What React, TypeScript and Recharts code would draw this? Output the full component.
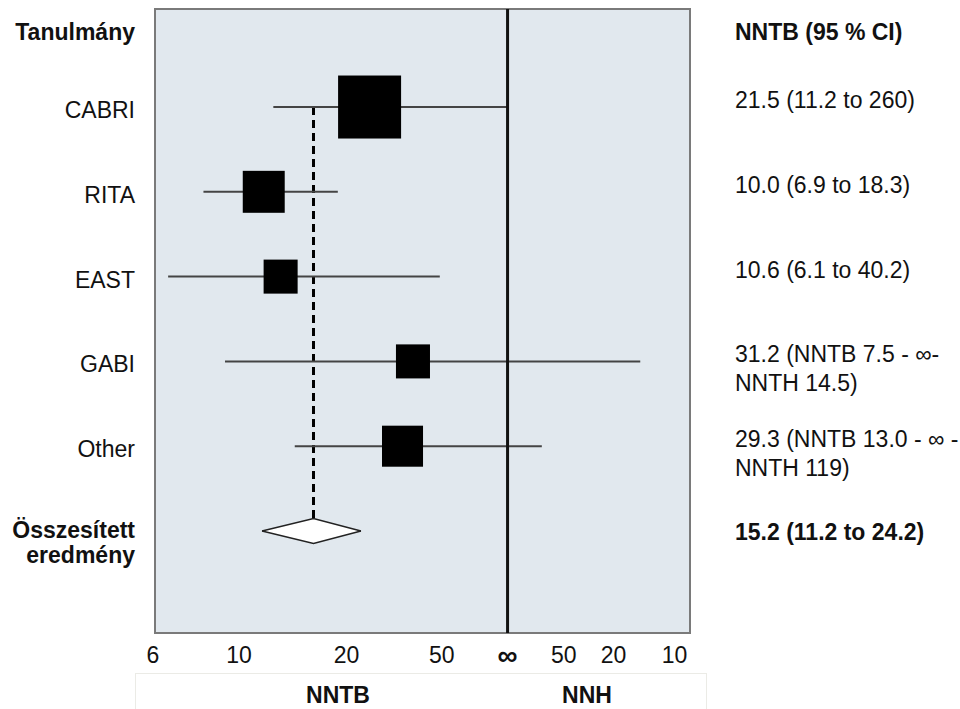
import React from 'react';
import {
  ComposedChart, Scatter, Area, XAxis, YAxis, ZAxis, ErrorBar,
  ReferenceLine, ReferenceArea, CartesianGrid,
} from 'recharts';

// Studies (rows top to bottom). Values are NNTB as drawn; negative = NNH side.
const studies = ['CABRI', 'RITA', 'EAST', 'GABI', 'Other'];
const estimate = [23.4, 11.3, 12.4, 34.4, 30.9];
const lower = [11.9, 7.8, 6.4, 9.0, 13.5];
const upper = [Infinity, 18.5, 48.5, -13.9, -82];
const weight = [40.8, 18.1, 11.9, 11.9, 17.3];
const ciText = [
  ['21.5 (11.2 to 260)'],
  ['10.0 (6.9 to 18.3)'],
  ['10.6 (6.1 to 40.2)'],
  ['31.2 (NNTB 7.5 - ∞-', 'NNTH 14.5)'],
  ['29.3 (NNTB 13.0 - ∞ -', 'NNTH 119)'],
];

const pooledLabel = ['Összesített', 'eredmény'];
const pooledText = '15.2 (11.2 to 24.2)';
const pooledEstimate = 15.3;
const pooledLower = 11.2;
const pooledUpper = 22.0;

// x axis: NNTB 6 .. ∞ .. NNH 10 (the picture's axis is not evenly spaced)
const tickNnt = [6, 10, 20, 50, Infinity, -50, -20, -10];
const tickLabels = ['6', '10', '20', '50', '∞', '50', '20', '10'];
const AXIS_STOPS = [0, 0.157, 0.358, 0.536, 0.659, 0.764, 0.857, 0.971];

const TICK_R = tickNnt.map((n) => 1 / n);

function toU(n: number) {
  const r = 1 / n;
  const last = TICK_R.length - 2;
  for (let i = 0; i <= last; i++) {
    const a = TICK_R[i];
    const b = TICK_R[i + 1];
    if ((r <= a && r >= b) || (i === 0 && r > a) || i === last) {
      return AXIS_STOPS[i] + ((a - r) / (a - b)) * (AXIS_STOPS[i + 1] - AXIS_STOPS[i]);
    }
  }
  return 0;
}

const POOLED_ROW = studies.length;
const HEADER_ROW = -0.884;
const Y_DOMAIN: [number, number] = [-1.156, 6.203];
const DIAMOND_HALF = 0.147;
const FONT = '"Liberation Sans", Arial, sans-serif';
const FS = 23;

const studyData = studies.map((name, i) => {
  const x = toU(estimate[i]);
  return {
    name,
    x,
    y: i,
    w: weight[i],
    err: [x - toU(lower[i]), toU(upper[i]) - x],
  };
});

const diamondData = [
  { x: toU(pooledLower), band: [POOLED_ROW, POOLED_ROW] },
  { x: toU(pooledEstimate), band: [POOLED_ROW - DIAMOND_HALF, POOLED_ROW + DIAMOND_HALF] },
  { x: toU(pooledUpper), band: [POOLED_ROW, POOLED_ROW] },
];

const rowTicks = [HEADER_ROW, 0, 1, 2, 3, 4, POOLED_ROW];

function LeftTick(props: any) {
  const { x, y, payload } = props;
  const v = payload.value;
  const common = { x, textAnchor: 'end' as const, dominantBaseline: 'central' as const, fontSize: FS, fill: '#111', fontFamily: FONT };
  if (v === HEADER_ROW) {
    return <text {...common} y={y} fontWeight="bold">Tanulmány</text>;
  }
  if (v === POOLED_ROW) {
    return (
      <g>
        <text {...common} y={y - 1} fontWeight="bold">{pooledLabel[0]}</text>
        <text {...common} y={y + 24} fontWeight="bold">{pooledLabel[1]}</text>
      </g>
    );
  }
  return <text {...common} y={y + 3}>{studies[v]}</text>;
}

function RightTick(props: any) {
  const { x, y, payload } = props;
  const v = payload.value;
  const common = { x, textAnchor: 'start' as const, dominantBaseline: 'central' as const, fontSize: FS, fill: '#111', fontFamily: FONT };
  if (v === HEADER_ROW) {
    return <text {...common} y={y} fontWeight="bold">NNTB (95 % CI)</text>;
  }
  if (v === POOLED_ROW) {
    return <text {...common} y={y + 1} fontWeight="bold">{pooledText}</text>;
  }
  const lines = ciText[v] || [];
  return (
    <g>
      {lines.map((t, k) => (
        <text key={k} {...common} y={y - 7 + k * 29}>{t}</text>
      ))}
    </g>
  );
}

function BottomTick(props: any) {
  const { x, y, index } = props;
  const label = tickLabels[index];
  const isInf = label === '∞';
  return (
    <text
      x={index === 0 ? x - 2 : x}
      y={y + 22}
      textAnchor="middle"
      dominantBaseline="central"
      fontSize={isInf ? 28 : FS}
      fontWeight={isInf ? 'bold' : 'normal'}
      fill="#111"
      fontFamily={FONT}
    >
      {label}
    </text>
  );
}

function Square(props: any) {
  const { cx, cy, size, width } = props;
  const side = size ? Math.sqrt(size) : width * 0.886;
  return <rect x={cx - side / 2} y={cy - side / 2} width={side} height={side} fill="#000" />;
}

export default function App() {
  return (
    <div style={{ position: 'absolute', left: 0, top: 0, width: 960, height: 709, overflow: 'hidden', background: '#fff', fontFamily: FONT }}>
      <ComposedChart width={960} height={709} margin={{ top: 9, right: 0, bottom: 0, left: 0 }}>
        <CartesianGrid fill="#e1e8ee" horizontal={false} vertical={false} />
        <XAxis
          type="number"
          dataKey="x"
          domain={[0, 1]}
          allowDataOverflow
          ticks={AXIS_STOPS}
          tick={<BottomTick />}
          tickLine={false}
          axisLine={false}
          tickSize={0}
          tickMargin={0}
          height={76}
          interval={0}
        />
        <YAxis
          yAxisId="left"
          type="number"
          domain={Y_DOMAIN}
          allowDataOverflow
          reversed
          ticks={rowTicks}
          tick={<LeftTick />}
          tickLine={false}
          axisLine={false}
          tickSize={0}
          tickMargin={20}
          width={155}
          interval={0}
        />
        <YAxis
          yAxisId="right"
          orientation="right"
          type="number"
          domain={Y_DOMAIN}
          allowDataOverflow
          reversed
          ticks={rowTicks}
          tick={<RightTick />}
          tickLine={false}
          axisLine={false}
          tickSize={0}
          tickMargin={45}
          width={270}
          interval={0}
        />
        <ZAxis type="number" dataKey="w" domain={[0, 40.8]} range={[0, 3969]} />
        <ReferenceArea
          yAxisId="left"
          x1={0}
          x2={1}
          y1={Y_DOMAIN[0]}
          y2={Y_DOMAIN[1]}
          fill="none"
          stroke="#7a7a7a"
          strokeWidth={2}
          ifOverflow="visible"
        />
        <ReferenceLine
          yAxisId="left"
          segment={[
            { x: toU(pooledEstimate), y: 0 },
            { x: toU(pooledEstimate), y: POOLED_ROW - DIAMOND_HALF },
          ]}
          stroke="#000"
          strokeWidth={3}
          strokeDasharray="8 5"
        />
        <Area
          yAxisId="left"
          data={diamondData}
          dataKey="band"
          type="linear"
          fill="#fff"
          fillOpacity={1}
          stroke="#222"
          strokeWidth={1.5}
          dot={false}
          activeDot={false}
          isAnimationActive={false}
        />
        <Scatter yAxisId="left" data={studyData} dataKey="y" shape={<Square />} isAnimationActive={false}>
          <ErrorBar dataKey="err" direction="x" width={0} stroke="#444" strokeWidth={2} isAnimationActive={false} />
        </Scatter>
        <ReferenceLine yAxisId="left" x={toU(Infinity)} stroke="#111" strokeWidth={3} />
      </ComposedChart>
      <div
        style={{
          position: 'absolute', left: 135, top: 673, width: 572, height: 36,
          border: '1px solid #ebebe6', borderBottom: 'none', boxSizing: 'border-box',
        }}
      />
      <div style={{ position: 'absolute', left: 238, width: 200, top: 682, textAlign: 'center', fontWeight: 'bold', fontSize: FS, lineHeight: '26px', color: '#111' }}>
        NNTB
      </div>
      <div style={{ position: 'absolute', left: 487, width: 200, top: 682, textAlign: 'center', fontWeight: 'bold', fontSize: FS, lineHeight: '26px', color: '#111' }}>
        NNH
      </div>
    </div>
  );
}
